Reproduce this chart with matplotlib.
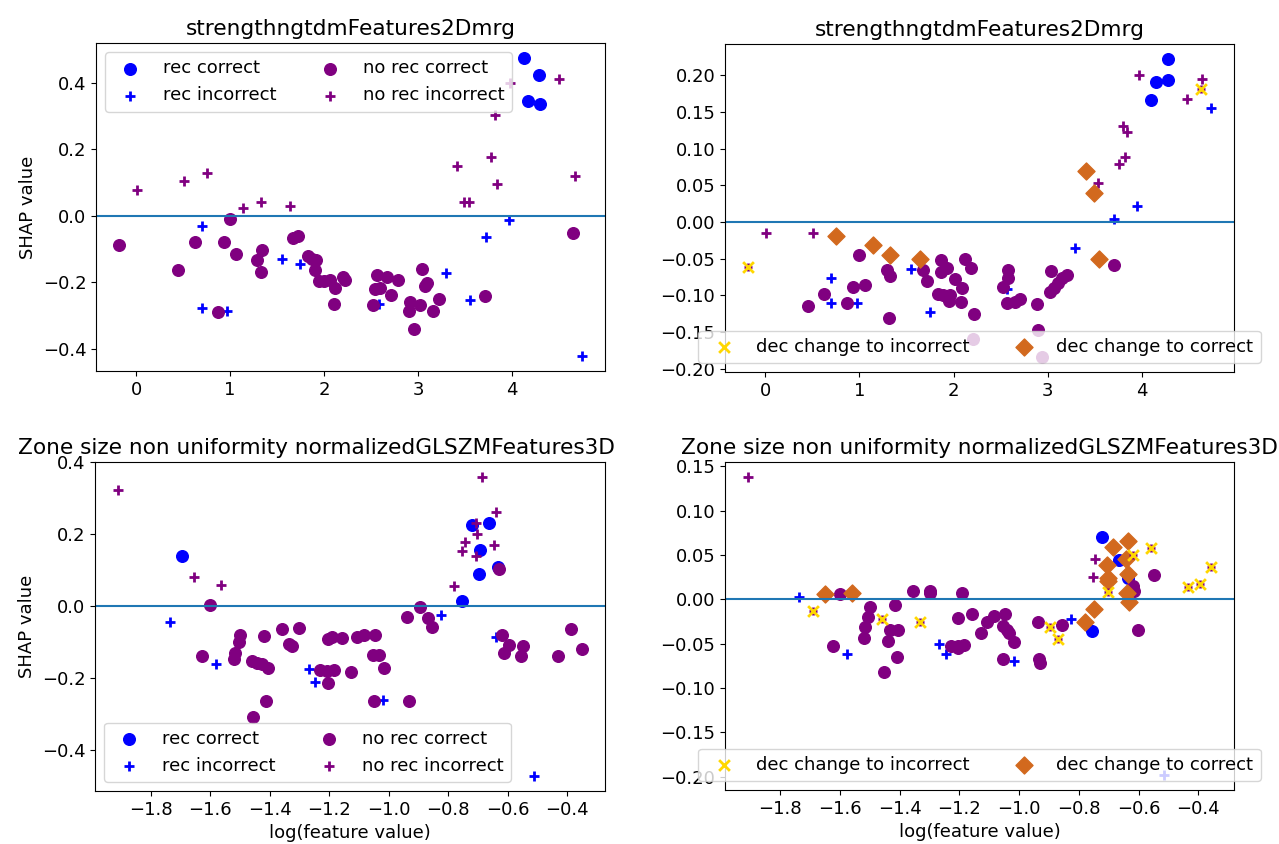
import matplotlib
matplotlib.use("Agg")
import matplotlib.pyplot as plt

plt.rcParams['font.size'] = 13

W, H = 1279, 844

title_top = "strengthngtdmFeatures2Dmrg"
title_bot = "Zone size non uniformity normalizedGLSZMFeatures3D"

# ---- top left ----
tl_rc_x = [4.12, 4.28, 4.17, 4.30]
tl_rc_y = [0.475, 0.425, 0.344, 0.336]
tl_ri_x = [0.70, 1.55, 1.74, 0.70, 0.97, 2.58, 3.97, 3.72, 3.30, 3.55, 4.74]
tl_ri_y = [-0.032, -0.131, -0.145, -0.276, -0.286, -0.266, -0.013, -0.063, -0.172, -0.252, -0.422]
tl_nc_x = [-0.18, 0.45, 0.63, 0.93, 1.00, 0.87, 1.06, 1.29, 1.34, 1.33, 1.67, 1.72, 1.83, 1.87,
           1.91, 1.90, 1.95, 2.00, 2.06, 2.12, 2.20, 2.22, 2.10, 2.56, 2.54, 2.52, 2.59, 2.67,
           2.71, 2.79, 3.04, 3.09, 3.07, 2.91, 2.90, 3.02, 2.96, 3.16, 3.22, 3.71, 4.65]
tl_nc_y = [-0.088, -0.164, -0.078, -0.078, -0.011, -0.289, -0.116, -0.134, -0.102, -0.169, -0.066,
           -0.060, -0.120, -0.129, -0.134, -0.164, -0.196, -0.196, -0.192, -0.217, -0.184, -0.194,
           -0.266, -0.179, -0.221, -0.269, -0.217, -0.184, -0.237, -0.192, -0.160, -0.201, -0.212,
           -0.259, -0.286, -0.269, -0.342, -0.287, -0.250, -0.242, -0.052]
tl_ni_x = [0.01, 0.51, 0.75, 1.14, 1.33, 1.64, 4.50, 3.98, 3.82, 3.77, 3.41, 3.84, 3.49, 3.54, 4.67]
tl_ni_y = [0.078, 0.105, 0.128, 0.024, 0.042, 0.029, 0.413, 0.40, 0.302, 0.178, 0.150, 0.096,
           0.041, 0.041, 0.120]

# ---- top right ----
tr_rc_x = [4.27, 4.15, 4.28, 4.10]
tr_rc_y = [0.222, 0.191, 0.193, 0.166]
tr_ri_x = [0.70, 0.70, 0.97, 1.55, 1.75, 4.73, 3.95, 3.70, 3.29, 2.57]
tr_ri_y = [-0.076, -0.110, -0.110, -0.064, -0.122, 0.155, 0.022, 0.0036, -0.036, -0.091]
tr_nc_x = [0.45, 0.63, 0.87, 0.93, 1.00, 1.06, 1.29, 1.33, 1.32, 1.68, 1.72, 1.87, 1.87, 1.93,
           1.83, 1.89, 1.96, 1.95, 2.01, 2.09, 2.08, 2.12, 2.19, 2.22, 2.21, 2.58, 2.58, 2.52,
           2.57, 2.65, 2.71, 2.88, 3.03, 3.02, 3.07, 3.11, 3.15, 3.20, 3.70, 2.90, 2.94]
tr_nc_y = [-0.114, -0.098, -0.110, -0.088, -0.045, -0.086, -0.065, -0.074, -0.131, -0.065, -0.081,
           -0.052, -0.068, -0.063, -0.098, -0.099, -0.099, -0.107, -0.077, -0.090, -0.109, -0.051,
           -0.063, -0.125, -0.160, -0.065, -0.076, -0.089, -0.110, -0.109, -0.105, -0.112, -0.067,
           -0.096, -0.090, -0.083, -0.076, -0.072, -0.059, -0.147, -0.184]
tr_ni_x = [0.01, 0.51, 3.97, 4.64, 4.48, 3.80, 3.84, 3.75, 3.82, 3.53]
tr_ni_y = [-0.015, -0.015, 0.200, 0.195, 0.167, 0.131, 0.123, 0.079, 0.088, 0.053]
tr_di_x = [-0.18, 4.63]
tr_di_y = [-0.061, 0.181]
tr_dc_x = [0.75, 1.14, 1.33, 1.64, 3.41, 3.49, 3.54]
tr_dc_y = [-0.019, -0.031, -0.045, -0.050, 0.070, 0.040, -0.050]

# ---- bottom left ----
bl_rc_x = [-1.694, -0.754, -0.720, -0.663, -0.694, -0.698, -0.632]
bl_rc_y = [0.138, 0.013, 0.226, 0.230, 0.155, 0.088, 0.109]
bl_ri_x = [-1.736, -1.579, -1.268, -1.246, -1.018, -0.823, -0.638, -0.512]
bl_ri_y = [-0.044, -0.161, -0.175, -0.212, -0.262, -0.024, -0.086, -0.472]
bl_nc_x = [-1.601, -1.626, -1.498, -1.502, -1.516, -1.520, -1.458, -1.443, -1.426, -1.407, -1.419,
           -1.412, -1.455, -1.357, -1.335, -1.326, -1.300, -1.203, -1.190, -1.157, -1.231, -1.206,
           -1.184, -1.205, -1.127, -1.107, -1.083, -1.046, -1.052, -1.034, -1.016, -1.050, -0.931,
           -0.940, -0.894, -0.867, -0.856, -0.630, -0.619, -0.596, -0.613, -0.548, -0.557, -0.430,
           -0.388, -0.351]
bl_nc_y = [0.003, -0.138, -0.080, -0.099, -0.129, -0.146, -0.152, -0.157, -0.161, -0.173, -0.083,
           -0.264, -0.309, -0.063, -0.106, -0.112, -0.060, -0.092, -0.086, -0.089, -0.178, -0.180,
           -0.177, -0.214, -0.184, -0.085, -0.080, -0.080, -0.135, -0.135, -0.173, -0.264, -0.264,
           -0.029, -0.003, -0.032, -0.058, 0.103, -0.080, -0.107, -0.131, -0.110, -0.138, -0.138,
           -0.063, -0.118]
bl_ni_x = [-1.909, -1.653, -1.562, -0.779, -0.687, -0.638, -0.708, -0.703, -0.743, -0.753, -0.708, -0.647]
bl_ni_y = [0.324, 0.081, 0.060, 0.056, 0.359, 0.261, 0.232, 0.200, 0.178, 0.154, 0.140, 0.169]

# ---- bottom right ----
br_rc_x = [-0.756, -0.721, -0.665, -0.635]
br_rc_y = [-0.036, 0.0705, 0.044, 0.024]
br_ri_x = [-1.736, -1.577, -1.268, -1.246, -1.019, -0.827, -0.516]
br_ri_y = [0.003, -0.061, -0.050, -0.061, -0.070, -0.022, -0.198]
br_nc_x = [-1.601, -1.624, -1.499, -1.505, -1.515, -1.520, -1.415, -1.434, -1.407, -1.438, -1.411,
           -1.454, -1.357, -1.300, -1.298, -1.229, -1.206, -1.184, -1.206, -1.193, -1.204, -1.158,
           -1.128, -1.108, -1.084, -1.047, -1.054, -1.042, -1.033, -1.017, -1.054, -0.938, -0.935,
           -0.930, -0.858, -0.548, -0.618, -0.615, -0.601]
br_nc_y = [0.006, -0.053, -0.0085, -0.020, -0.031, -0.043, -0.006, -0.034, -0.034, -0.047, -0.065,
           -0.082, 0.010, 0.009, 0.007, -0.052, -0.052, -0.051, -0.055, 0.0075, -0.021, -0.016,
           -0.038, -0.025, -0.019, -0.016, -0.030, -0.034, -0.038, -0.048, -0.067, -0.025, -0.067,
           -0.072, -0.029, 0.027, 0.015, 0.009, -0.034]
br_ni_x = [-1.908, -0.745, -0.754]
br_ni_y = [0.138, 0.045, 0.025]
br_di_x = [-1.692, -1.461, -1.333, -0.897, -0.870, -0.559, -0.619, -0.702, -0.434, -0.394, -0.358]
br_di_y = [-0.013, -0.022, -0.026, -0.031, -0.045, 0.058, 0.050, 0.0086, 0.014, 0.017, 0.036]
br_dc_x = [-1.651, -1.559, -0.779, -0.751, -0.635, -0.686, -0.643, -0.706, -0.702, -0.704, -0.635,
           -0.639, -0.631]
br_dc_y = [0.006, 0.0075, -0.025, -0.011, 0.066, 0.059, 0.0455, 0.0385, 0.024, 0.021, 0.029,
           0.0075, -0.003]


def make_ax(fig, l, r, t, b):
    return fig.add_axes([l / W, 1 - b / H, (r - l) / W, (b - t) / H])


def base_scatter(ax, rc, ri, nc, ni):
    ax.scatter(rc[0], rc[1], s=70, c='blue', marker='o', label='rec correct')
    ax.scatter(ri[0], ri[1], s=50, c='blue', marker='+', linewidths=2, label='rec incorrect')
    ax.scatter(nc[0], nc[1], s=70, c='purple', marker='o', label='no rec correct')
    ax.scatter(ni[0], ni[1], s=50, c='purple', marker='+', linewidths=2, label='no rec incorrect')
    ax.axhline(0, color='C0', lw=1.5)


def dec_scatter(ax, di, dc):
    ax.scatter(dc[0], dc[1], s=75, c='chocolate', marker='D', label='dec change to correct')
    ax.scatter(di[0], di[1], s=40, c='purple', marker='+', linewidths=2)
    ax.scatter(di[0], di[1], s=60, c='gold', marker='x', linewidths=2,
               label='dec change to incorrect')


fig = plt.figure(figsize=(W / 100, H / 100), dpi=100)

ax1 = make_ax(fig, 96, 605, 43, 371)
base_scatter(ax1, (tl_rc_x, tl_rc_y), (tl_ri_x, tl_ri_y), (tl_nc_x, tl_nc_y), (tl_ni_x, tl_ni_y))
ax1.set_title(title_top)
ax1.set_ylabel("SHAP value")
ax1.legend(loc='upper left', ncol=2)

ax2 = make_ax(fig, 725, 1234, 44, 372)
base_scatter(ax2, (tr_rc_x, tr_rc_y), (tr_ri_x, tr_ri_y), (tr_nc_x, tr_nc_y), (tr_ni_x, tr_ni_y))
dec_scatter(ax2, (tr_di_x, tr_di_y), (tr_dc_x, tr_dc_y))
ax2.set_title(title_top)
h, lab = ax2.get_legend_handles_labels()
ax2.legend([h[-1], h[-2]], [lab[-1], lab[-2]], loc='lower center', ncol=2)

ax3 = make_ax(fig, 95, 605, 462, 791)
base_scatter(ax3, (bl_rc_x, bl_rc_y), (bl_ri_x, bl_ri_y), (bl_nc_x, bl_nc_y), (bl_ni_x, bl_ni_y))
# this title sits left of the axes centre in the original
ax3.set_title(title_bot, x=0.435)
ax3.set_ylabel("SHAP value")
ax3.set_xlabel("log(feature value)")
ax3.legend(loc='lower left', ncol=2)

ax4 = make_ax(fig, 725, 1234, 462, 790)
base_scatter(ax4, (br_rc_x, br_rc_y), (br_ri_x, br_ri_y), (br_nc_x, br_nc_y), (br_ni_x, br_ni_y))
dec_scatter(ax4, (br_di_x, br_di_y), (br_dc_x, br_dc_y))
ax4.set_title(title_bot)
ax4.set_xlabel("log(feature value)")
h, lab = ax4.get_legend_handles_labels()
ax4.legend([h[-1], h[-2]], [lab[-1], lab[-2]], loc='lower center', ncol=2)

fig.savefig("out.png", dpi=100)
